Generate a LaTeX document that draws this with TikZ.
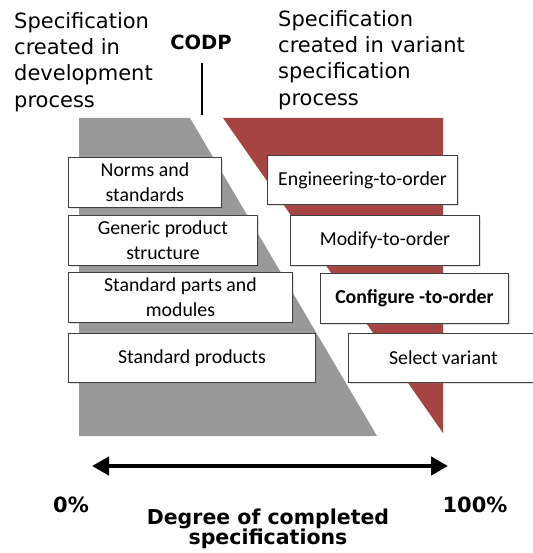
\documentclass[tikz,border=0pt]{standalone}
\usepackage{fontspec}
\setmainfont{DejaVu Sans}
\newfontfamily\boxfont{Carlito}
\usepackage{tikz}
\usetikzlibrary{arrows.meta,shadows}
\usepackage[dvipsnames,svgnames,x11names]{xcolor}

\definecolor{devgray}{RGB}{153,153,153}
\definecolor{varred}{RGB}{165,68,64}
\definecolor{boxline}{RGB}{64,64,64}

\tikzset{
    specbox/.style={
        draw=boxline,
        line width=0.9pt,
        fill=white,
        inner sep=0pt,
        align=center,
        anchor=north west,
        minimum height=50pt,
        font=\boxfont\fontsize{19.8}{25}\selectfont,
        drop shadow={shadow xshift=1.5pt, shadow yshift=-1.5pt, opacity=0.25}
    },
    toptext/.style={
        inner sep=0pt,
        align=left,
        anchor=north west,
        font=\fontsize{21}{26.3}\selectfont
    },
    boldtext/.style={
        inner sep=0pt,
        font=\bfseries\fontsize{21}{22}\selectfont
    }
}

\begin{document}
\begin{tikzpicture}[x=1pt, y=-1pt]

\useasboundingbox (0,0) rectangle (532,553);

% ---------------- CAPCALERES ----------------

\node[toptext] (devtext) at (14,12)
    {Specification\\created in\\development\\process};

\node[toptext] (vartext) at (278,10)
    {Specification\\created in variant\\specification\\process};

\node[
    boldtext,
    font=\bfseries\fontsize{19.5}{22}\selectfont,
    anchor=base
] (codp) at (201,50) {CODP};

% Linia CODP
\coordinate (codptop) at (202,63);
\coordinate (codpend) at (202,115);
\draw[line width=1.8pt] (codptop) -- (codpend);

% ---------------- AREES ----------------

% Desenvolupament
\fill[devgray] (79,118) -- (190,118) -- (377,436) -- (79,436) -- cycle;

% Variant
\fill[varred] (223,118) -- (443,118) -- (443,433) -- cycle;

% ---------------- CAIXES ----------------

\node[specbox, minimum width=153pt] (norms) at (68,157)
    {Norms and\\standards};
\node[specbox, minimum width=189pt] (generic) at (68,215)
    {Generic product\\structure};
\node[specbox, minimum width=224pt] (parts) at (68,272)
    {Standard parts and\\modules};
\node[specbox, minimum width=247pt, minimum height=49pt] (products) at (68,333)
    {Standard products};

\node[specbox, minimum width=190pt, minimum height=49pt] (eto) at (267,155)
    {Engineering-to-order};
\node[specbox, minimum width=189pt] (mto) at (290,215)
    {Modify-to-order};
\node[specbox, minimum width=188pt] (cto) at (320,273)
    {\bfseries Configure -to-order};
\node[specbox, minimum width=190pt, minimum height=49pt] (select) at (348,333)
    {Select variant};

% ---------------- EIX ----------------

\coordinate (low) at (92,466);
\coordinate (high) at (448,466);

\draw[
    {Triangle[length=17pt, width=18pt]}-{Triangle[length=17pt, width=18pt]},
    line width=4.5pt
] (low) -- (high);

\node[boldtext, anchor=base] (zero) at (71,512) {0\%};
\node[boldtext, anchor=base] (full) at (475,512) {100\%};

\node[
    boldtext,
    font=\bfseries\fontsize{20.5}{20}\selectfont,
    align=center,
    anchor=north
] (degree) at (268,509) {Degree of completed\\specifications};

\end{tikzpicture}
\end{document}
